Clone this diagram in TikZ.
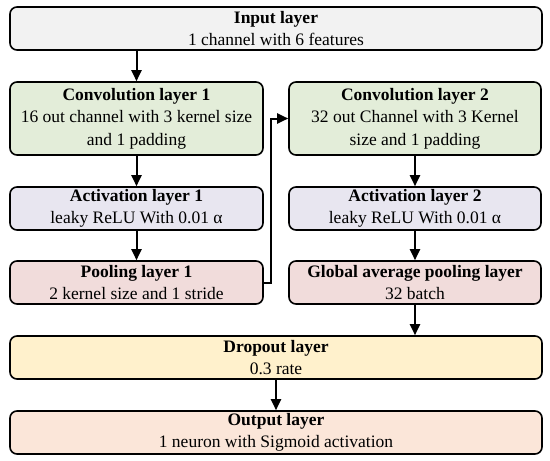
\documentclass[tikz,border=0pt]{standalone}
\usepackage{fontspec}
\setmainfont{Liberation Serif}
\usetikzlibrary{arrows.meta}
\definecolor{cinput}{HTML}{F2F2F2}
\definecolor{cconv}{HTML}{E3EDD9}
\definecolor{cact}{HTML}{E8E6F0}
\definecolor{cpool}{HTML}{F1DCDB}
\definecolor{cdrop}{HTML}{FFF1CC}
\definecolor{cout}{HTML}{FBE6D9}
\begin{document}
\begin{tikzpicture}[x=1pt,y=-1pt,
  box/.style={draw, line width=1.6pt, rounded corners=7pt, align=center, inner sep=0pt,
    font=\fontsize{17.5}{22.5}\selectfont},
  arr/.style={line width=2pt, -{Triangle[width=10pt,length=11pt]}}]
\useasboundingbox (0,0) rectangle (550,461);
\node[box, fill=cinput, minimum width=532pt, minimum height=43pt] (in) at (276,28.5)
  {\textbf{Input layer}\\1 channel with 6 features};
\node[box, fill=cconv, minimum width=253pt, minimum height=73pt] (c1) at (136.5,118.5)
  {\textbf{Convolution layer 1}\\16 out channel with 3 kernel size\\and 1 padding};
\node[box, fill=cconv, minimum width=252pt, minimum height=73pt] (c2) at (415,118.5)
  {\textbf{Convolution layer 2}\\32 out Channel with 3 Kernel\\size and 1 padding};
\node[box, fill=cact, minimum width=253pt, minimum height=43pt] (a1) at (136.5,208.5)
  {\textbf{Activation layer 1}\\leaky ReLU With 0.01 α};
\node[box, fill=cact, minimum width=252pt, minimum height=43pt] (a2) at (415,208.5)
  {\textbf{Activation layer 2}\\leaky ReLU With 0.01 α};
\node[box, fill=cpool, minimum width=253pt, minimum height=43pt] (p1) at (136.5,282.5)
  {\textbf{Pooling layer 1}\\2 kernel size and 1 stride};
\node[box, fill=cpool, minimum width=252pt, minimum height=43pt] (gap) at (415,282.5)
  {\textbf{Global average pooling layer}\\32 batch};
\node[box, fill=cdrop, minimum width=532pt, minimum height=43pt] (dr) at (276,357.5)
  {\textbf{Dropout layer}\\0.3 rate};
\node[box, fill=cout, minimum width=532pt, minimum height=43pt] (out) at (276,432.5)
  {\textbf{Output layer}\\1 neuron with Sigmoid activation};
\draw[arr] (in.south -| c1) -- (c1.north);
\draw[arr] (c1) -- (a1);
\draw[arr] (a1) -- (p1);
\draw[arr] (c2) -- (a2);
\draw[arr] (a2) -- (gap);
\draw[arr] (p1.east) -- ++(7,0) |- (c2.west);
\draw[arr] (gap.south) -- (gap.south |- dr.north);
\draw[arr] (dr) -- (out);
\end{tikzpicture}
\end{document}
